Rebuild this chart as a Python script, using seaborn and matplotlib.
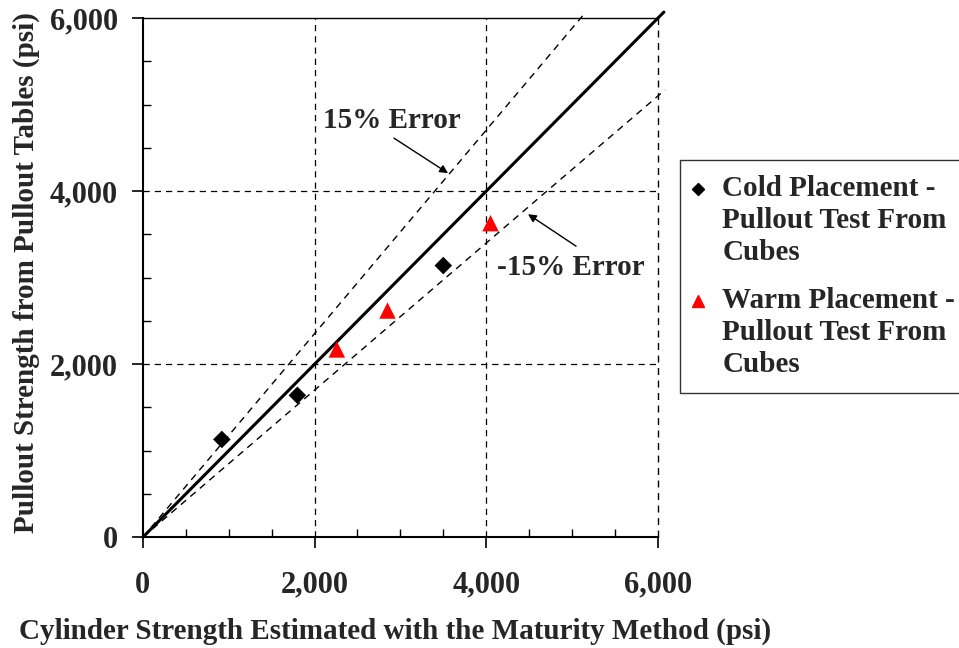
import numpy as np
import pandas as pd
import seaborn as sns
import matplotlib
matplotlib.use('Agg')
import matplotlib.pyplot as plt
from matplotlib.lines import Line2D
from matplotlib.legend_handler import HandlerLine2D
from matplotlib.ticker import MultipleLocator, FuncFormatter

# data (psi)
cold_x = [920, 1800, 3500]
cold_y = [1130, 1640, 3140]
warm_x = [2260, 2850, 4050]
warm_y = [2170, 2620, 3630]

# 1:1 line and +/-15% error lines
equal_x = [0, 6070]
equal_y = [0, 6070]
upper_x = [0, 5160]
upper_y = [0, 5160 / 0.85]
lower_x = [0, 6085]
lower_y = [0, 6085 * 0.85]

cold_label = 'Cold Placement -\nPullout Test From\nCubes'
warm_label = 'Warm Placement -\nPullout Test From\nCubes'

df = pd.DataFrame({
    'x': cold_x + warm_x,
    'y': cold_y + warm_y,
    'group': [cold_label] * len(cold_x) + [warm_label] * len(warm_x),
})

sns.set_style('white')
plt.rcParams['font.family'] = ['Liberation Serif', 'DejaVu Serif']
plt.rcParams['font.weight'] = 'bold'

fig = plt.figure(figsize=(9.59, 6.48), dpi=100)
ax = fig.add_axes([0.149, 0.171, 0.537, 0.801])

ax.set_xlim(0, 6000)
ax.set_ylim(0, 6000)

dash = (0, (5, 4))
# dashed grid at 2000/4000, top edge solid, right edge dashed
for v in [2000, 4000]:
    ax.axhline(v, color='black', lw=0.9, ls=dash, zorder=1)
    ax.axvline(v, color='black', lw=0.9, ls=dash, zorder=1)
ax.axhline(6000, color='black', lw=1.0, zorder=1, clip_on=False)
ax.axvline(6000, color='black', lw=1.0, ls=dash, zorder=1, clip_on=False)

ax.plot(equal_x, equal_y, color='black', lw=2.2, clip_on=False, zorder=2)
ax.plot(upper_x, upper_y, color='black', lw=1.0, ls=dash, clip_on=False, zorder=2)
ax.plot(lower_x, lower_y, color='black', lw=1.0, ls=dash, clip_on=False, zorder=2)

sns.scatterplot(data=df, x='x', y='y', hue='group', style='group', size='group',
                palette={cold_label: 'black', warm_label: 'red'},
                markers={cold_label: 'D', warm_label: '^'},
                sizes={cold_label: 80, warm_label: 140},
                edgecolor='none', ax=ax, zorder=3, clip_on=False, legend=False)

# annotations
ax.text(2900, 4820, '15% Error', ha='center', va='center', fontsize=21, fontweight='bold')
ax.annotate('', xy=(3555, 4208), xytext=(2925, 4613),
            arrowprops=dict(arrowstyle='-|>', color='black', lw=1.0,
                            shrinkA=0, shrinkB=0, mutation_scale=12))
ax.text(4980, 3120, '-15% Error', ha='center', va='center', fontsize=21, fontweight='bold')
ax.annotate('', xy=(4487, 3734), xytext=(5047, 3364),
            arrowprops=dict(arrowstyle='-|>', color='black', lw=1.0,
                            shrinkA=0, shrinkB=0, mutation_scale=12))

for side in ['top', 'right']:
    ax.spines[side].set_visible(False)
for side in ['left', 'bottom']:
    ax.spines[side].set_color('black')
    ax.spines[side].set_linewidth(1.5)

ax.xaxis.set_major_locator(MultipleLocator(2000))
ax.yaxis.set_major_locator(MultipleLocator(2000))
ax.xaxis.set_minor_locator(MultipleLocator(500))
ax.yaxis.set_minor_locator(MultipleLocator(500))
fmt = FuncFormatter(lambda v, p: f'{int(v):,}')
ax.xaxis.set_major_formatter(fmt)
ax.yaxis.set_major_formatter(fmt)
ax.tick_params(which='major', direction='out', length=8, width=1.2, color='black',
               labelsize=22, bottom=True, left=True)
ax.tick_params(axis='x', which='major', pad=16)
ax.tick_params(axis='y', which='major', pad=10)
ax.tick_params(which='minor', direction='in', length=6, width=1.0, color='black',
               bottom=True, left=True)
for lab in ax.get_xticklabels() + ax.get_yticklabels():
    lab.set_fontweight('bold')

ax.set_xlabel('Cylinder Strength Estimated with the Maturity Method (psi)',
              fontsize=21, fontweight='bold')
ax.set_ylabel('Pullout Strength from Pullout Tables (psi)',
              fontsize=21, fontweight='bold')
ax.xaxis.set_label_coords(0.49, -0.155)
ax.yaxis.set_label_coords(-0.2, 0.51)


class TopMarkerHandler(HandlerLine2D):
    # put the legend marker next to the first line of a multi-line label
    def create_artists(self, legend, orig_handle, xdescent, ydescent,
                       width, height, fontsize, trans):
        artists = super().create_artists(legend, orig_handle, xdescent, ydescent,
                                         width, height, fontsize, trans)
        for a in artists:
            a.set_ydata(np.asarray(a.get_ydata()) + 23)
        return artists


handles = [
    Line2D([], [], ls='', marker='D', color='black', markersize=6),
    Line2D([], [], ls='', marker='^', color='red', markersize=8),
]
leg = ax.legend(handles, [cold_label, warm_label],
                loc='upper left', bbox_to_anchor=(680 / 959, 1 - 160 / 648),
                bbox_transform=fig.transFigure, frameon=True, borderaxespad=0,
                fancybox=False, edgecolor='black', handletextpad=0.75,
                handlelength=0.2, labelspacing=0.7, borderpad=0.5,
                prop={'weight': 'bold', 'size': 21},
                handler_map={Line2D: TopMarkerHandler()})
for t in leg.get_texts():
    t.set_linespacing(1.25)
leg.get_frame().set_linewidth(1.0)

fig.savefig('out.png', dpi=100)
